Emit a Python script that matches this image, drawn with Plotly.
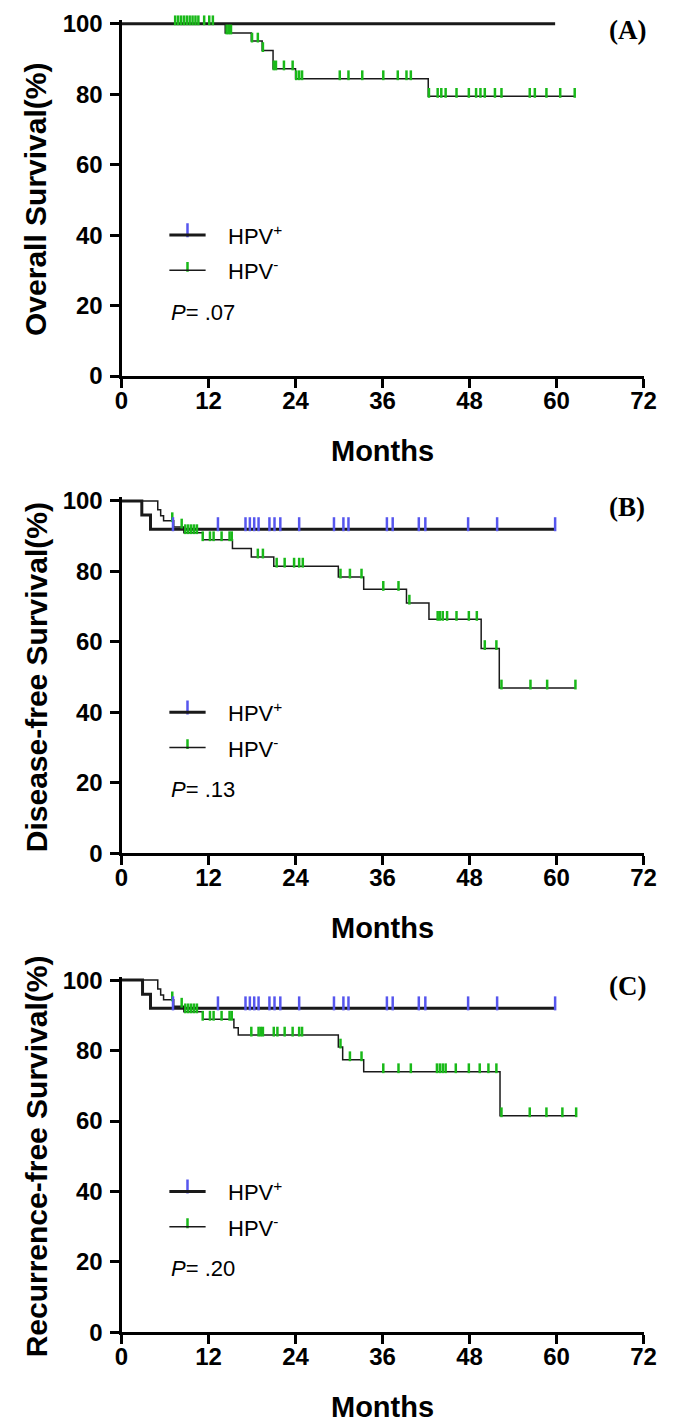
import plotly.graph_objects as go

W, H = 676, 1428

# ---------------- data ----------------
months_ticks = [0, 12, 24, 36, 48, 60, 72]
surv_ticks = [0, 20, 40, 60, 80, 100]
panel_labels = ["(A)", "(B)", "(C)"]
y_titles = ["Overall Survival(%)", "Disease-free Survival(%)", "Recurrence-free Survival(%)"]
p_values = [".07", ".13", ".20"]
group_names = ["HPV<sup>+</sup>", "HPV<sup>-</sup>"]

# Panel A: overall survival
A_pos_event_t = []
A_pos_event_s = []
A_pos_end = 59.8
A_pos_censor = [7.0, 13.3, 17.1, 17.7, 18.3, 18.8, 20.3, 21.0, 21.8, 24.4, 29.2, 30.6, 31.3,
                36.6, 37.3, 39.9, 40.8, 41.8, 46.5, 47.8, 51.8, 59.8]
A_neg_event_t = [14.3, 17.9, 19.4, 20.9, 24.0, 42.3]
A_neg_event_s = [97.4, 95.1, 92.4, 87.2, 84.4, 79.4]
A_neg_end = 62.5
A_neg_censor = [7.4, 7.8, 8.2, 8.6, 9.0, 9.4, 9.8, 10.2, 10.6, 11.4, 12.1, 12.6, 14.5, 14.8, 15.1,
                18.0, 18.8, 19.5, 21.0, 21.3, 22.4, 23.6, 24.1, 24.5, 24.9, 30.1, 31.3, 33.2, 36.1,
                38.1, 39.3, 39.9, 42.4, 43.6, 44.1, 44.7, 46.2, 47.9, 48.9, 49.5, 50.1, 51.5, 52.4,
                56.3, 57.0, 58.6, 60.5, 62.5]

# Panel B: disease-free survival
B_pos_event_t = [2.8, 4.0]
B_pos_event_s = [96.0, 92.0]
B_pos_end = 59.8
B_pos_censor = [7.1, 13.3, 17.1, 17.7, 18.3, 18.9, 20.4, 21.1, 21.9, 24.5, 29.3, 30.6, 31.3,
                36.6, 37.4, 41.0, 41.9, 47.8, 51.8, 59.8]
B_neg_event_t = [5.0, 5.4, 5.8, 7.2, 8.6, 11.2, 15.3, 17.9, 21.0, 29.9, 33.4, 39.3, 42.4, 49.6, 52.1]
B_neg_event_s = [97.5, 95.8, 94.4, 92.6, 91.0, 89.0, 86.5, 84.1, 81.5, 78.4, 74.9, 71.0, 66.4, 58.1, 46.9]
B_neg_end = 62.6
B_neg_censor = [7.0, 8.3, 8.8, 9.2, 9.6, 10.0, 10.4, 11.2, 12.2, 12.7, 13.8, 14.9, 15.2, 18.8, 19.5,
                21.4, 22.5, 23.8, 24.5, 25.0, 30.2, 31.5, 33.1, 36.1, 38.2, 39.7, 43.6, 43.9, 44.3,
                44.9, 46.2, 47.9, 49.0, 50.1, 51.7, 52.4, 56.4, 58.7, 62.6]

# Panel C: recurrence-free survival
C_pos_event_t = [2.9, 4.0]
C_pos_event_s = [96.0, 92.0]
C_pos_end = 59.8
C_pos_censor = [7.1, 13.3, 17.1, 17.7, 18.3, 18.9, 20.4, 21.1, 21.9, 24.5, 29.3, 30.6, 31.3,
                36.6, 37.4, 41.0, 41.9, 47.8, 51.8, 59.8]
C_neg_event_t = [5.0, 5.4, 5.8, 7.2, 8.6, 11.2, 15.5, 16.1, 29.9, 30.5, 33.4, 52.2]
C_neg_event_s = [97.5, 95.8, 94.4, 92.6, 91.0, 88.9, 86.5, 84.4, 81.0, 77.4, 74.0, 61.5]
C_neg_end = 62.7
C_neg_censor = [7.0, 8.3, 8.8, 9.2, 9.6, 10.0, 10.4, 11.2, 12.2, 12.7, 13.8, 14.9, 15.2, 17.9, 18.9,
                19.2, 19.5, 21.0, 21.5, 22.5, 23.6, 24.5, 24.9, 30.2, 31.5, 33.1, 36.1, 38.2, 39.9,
                43.5, 43.9, 44.3, 44.7, 46.1, 47.9, 49.4, 50.6, 51.7, 52.4, 56.3, 58.6, 60.8, 62.7]

panels = [
    (A_pos_event_t, A_pos_event_s, A_pos_end, A_pos_censor,
     A_neg_event_t, A_neg_event_s, A_neg_end, A_neg_censor),
    (B_pos_event_t, B_pos_event_s, B_pos_end, B_pos_censor,
     B_neg_event_t, B_neg_event_s, B_neg_end, B_neg_censor),
    (C_pos_event_t, C_pos_event_s, C_pos_end, C_pos_censor,
     C_neg_event_t, C_neg_event_s, C_neg_end, C_neg_censor),
]

# ---------------- styling / layout ----------------
BLUE = "#5656ee"
GREEN = "#19b919"
CURVE = "#1a1a1a"
SANS = "Liberation Sans, Arial, sans-serif"
SERIF = "Liberation Serif, Times New Roman, serif"

X0_PX, X72_PX = 118, 656
PANEL_PX = [(14, 372), (499, 857), (986, 1344)]  # pixel rows of y=100 and y=0
YMAX = 101.0
POS_TICK, NEG_TICK = 10, 7


def step_xy(t, s, end):
    return [0] + list(t) + [end], [100] + list(s) + [s[-1] if s else 100]


def surv_at(t_ev, s_ev, t):
    v = 100.0
    for te, se in zip(t_ev, s_ev):
        if te <= t:
            v = se
    return v


fig = go.Figure()
layout = dict(width=W, height=H, margin=dict(l=0, r=0, t=0, b=0),
              paper_bgcolor="white", plot_bgcolor="white", showlegend=False)
annotations = []
shapes = []

for i, (pt, ps, pend, pc, nt, ns, nend, nc) in enumerate(panels):
    y100, y0 = PANEL_PX[i]
    ppu = (y0 - y100) / 100.0
    ytop = y0 - YMAX * ppu
    xa = "x" if i == 0 else f"x{i+1}"
    ya = "y" if i == 0 else f"y{i+1}"
    xkey = "xaxis" if i == 0 else f"xaxis{i+1}"
    ykey = "yaxis" if i == 0 else f"yaxis{i+1}"

    layout[xkey] = dict(domain=[X0_PX / W, X72_PX / W], range=[0, 72], anchor=ya,
                        tickvals=months_ticks, ticks="outside", ticklen=9, tickwidth=3,
                        tickcolor="black", showline=True, linewidth=3, linecolor="black",
                        showgrid=False, zeroline=False, ticklabelstandoff=-8,
                        tickfont=dict(family=SANS, size=24, color="black", weight="bold"))
    layout[ykey] = dict(domain=[(H - y0) / H, (H - ytop) / H], range=[0, YMAX], anchor=xa,
                        tickvals=surv_ticks, ticks="outside", ticklen=9, tickwidth=3,
                        tickcolor="black", showline=True, linewidth=3, linecolor="black",
                        showgrid=False, zeroline=False, ticklabelstandoff=2,
                        tickfont=dict(family=SANS, size=24, color="black", weight="bold"))

    # curves
    x, y = step_xy(pt, ps, pend)
    fig.add_trace(go.Scatter(x=x, y=y, mode="lines", line=dict(color=CURVE, width=3, shape="hv"),
                             xaxis=xa, yaxis=ya, hoverinfo="skip"))
    x, y = step_xy(nt, ns, nend)
    fig.add_trace(go.Scatter(x=x, y=y, mode="lines", line=dict(color=CURVE, width=1.5, shape="hv"),
                             xaxis=xa, yaxis=ya, hoverinfo="skip"))
    # censor ticks (sit on top of the curve)
    fig.add_trace(go.Scatter(x=nc, y=[surv_at(nt, ns, t) + NEG_TICK / 2 / ppu for t in nc],
                             mode="markers", cliponaxis=False,
                             marker=dict(symbol="line-ns", size=NEG_TICK,
                                         line=dict(width=2.5, color=GREEN)),
                             xaxis=xa, yaxis=ya, hoverinfo="skip"))
    fig.add_trace(go.Scatter(x=pc, y=[surv_at(pt, ps, t) + POS_TICK / 2 / ppu for t in pc],
                             mode="markers", cliponaxis=False,
                             marker=dict(symbol="line-ns", size=POS_TICK,
                                         line=dict(width=2.5, color=BLUE)),
                             xaxis=xa, yaxis=ya, hoverinfo="skip"))

    # legend
    leg_y = [40, 30]
    shapes.append(dict(type="line", xref=xa, yref=ya, x0=6.6, x1=11.6, y0=leg_y[0], y1=leg_y[0],
                       line=dict(color=CURVE, width=3)))
    shapes.append(dict(type="line", xref=xa, yref=ya, x0=6.6, x1=11.6, y0=leg_y[1], y1=leg_y[1],
                       line=dict(color=CURVE, width=1.5)))
    fig.add_trace(go.Scatter(x=[9.1], y=[leg_y[0] + POS_TICK / 2 / ppu], mode="markers",
                             marker=dict(symbol="line-ns", size=POS_TICK,
                                         line=dict(width=2.5, color=BLUE)),
                             xaxis=xa, yaxis=ya, hoverinfo="skip"))
    fig.add_trace(go.Scatter(x=[9.1], y=[leg_y[1] + NEG_TICK / 2 / ppu], mode="markers",
                             marker=dict(symbol="line-ns", size=NEG_TICK,
                                         line=dict(width=2.5, color=GREEN)),
                             xaxis=xa, yaxis=ya, hoverinfo="skip"))
    for name, ly in zip(group_names, leg_y):
        annotations.append(dict(x=14.4, y=ly, xref=xa, yref=ya, text=name, showarrow=False,
                                xanchor="left", yanchor="middle",
                                font=dict(family=SANS, size=22, color="black")))
    annotations.append(dict(x=6.5, y=18, xref=xa, yref=ya, text=f"<i>P</i>= {p_values[i]}",
                            showarrow=False, xanchor="left", yanchor="middle",
                            font=dict(family=SANS, size=22, color="black")))

    # panel label
    annotations.append(dict(x=639 / W, y=(H - (y100 + 6)) / H, xref="paper", yref="paper",
                            text=f"<b>{panel_labels[i]}</b>", showarrow=False,
                            xanchor="center", yanchor="middle",
                            font=dict(family=SERIF, size=27, color="black")))
    # axis titles
    annotations.append(dict(x=30 / W, y=(H - (y100 + y0) / 2) / H, xref="paper", yref="paper",
                            text=f"<b>{y_titles[i]}</b>", textangle=-90, showarrow=False,
                            xanchor="center", yanchor="middle",
                            font=dict(family=SANS, size=30, color="black")))
    annotations.append(dict(x=(X0_PX + X72_PX) / 2 / W, y=(H - (y0 + 76)) / H,
                            xref="paper", yref="paper", text="<b>Months</b>", showarrow=False,
                            xanchor="center", yanchor="middle",
                            font=dict(family=SANS, size=29, color="black")))

layout["annotations"] = annotations
layout["shapes"] = shapes
fig.update_layout(**layout)
fig.write_html("out.html", config={"displayModeBar": False},
               post_script="document.body.style.margin='0';document.body.style.overflow='hidden';")
